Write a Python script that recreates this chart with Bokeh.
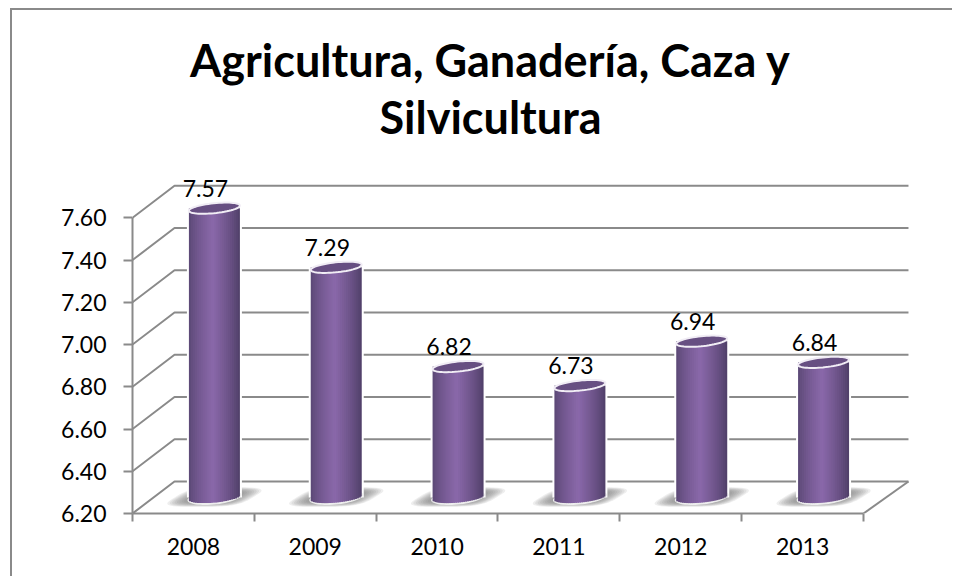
import numpy as np
from bokeh.plotting import figure
from bokeh.models import FixedTicker, Label
from bokeh.embed import file_html
from bokeh.resources import INLINE

title_lines = ["Agricultura, Ganadería, Caza y", "Silvicultura"]
unit_label = "%"
years = ["2008", "2009", "2010", "2011", "2012", "2013"]
values = [7.57, 7.29, 6.82, 6.73, 6.94, 6.84]
y_ticks = [6.20, 6.40, 6.60, 6.80, 7.00, 7.20, 7.40, 7.60]

ORIGIN_X, ORIGIN_Y = 12, 10   # page position of the canvas (margin + css border)
W, H = 954 - ORIGIN_X, 578 - ORIGIN_Y
BORDER_L, BORDER_B = 132 - ORIGIN_X, 578 - 513
PX_PER_CAT = 121.83
PX_PER_UNIT = 211.2
Y0 = y_ticks[0]
ux = 1 / PX_PER_CAT
uy = 1 / PX_PER_UNIT
frame_w, frame_h = W - BORDER_L, H - BORDER_B
GREY = "#8a8a8a"
FONT = "Lato"

p = figure(width=W, height=H, output_backend="svg", toolbar_location=None,
           x_range=(0, frame_w * ux), y_range=(Y0, Y0 + frame_h * uy),
           min_border_left=BORDER_L, min_border_bottom=BORDER_B,
           min_border_top=0, min_border_right=0,
           background_fill_color="white", border_fill_color="white",
           outline_line_color=None)
p.margin = (8, 0, 0, 10)
p.styles = {"border-top": f"2px solid {GREY}", "border-left": f"2px solid {GREY}"}
p.grid.visible = False

n = len(years)
xa = p.xaxis[0]
xa.ticker = FixedTicker(ticks=[i + 0.5 for i in range(n)], minor_ticks=list(range(n + 1)))
xa.major_label_overrides = {i + 0.5: y for i, y in enumerate(years)}
xa.major_tick_line_color = None
xa.major_tick_out = 0
xa.major_tick_in = 0
xa.minor_tick_out = 8
xa.minor_tick_in = 0
xa.minor_tick_line_color = GREY
xa.minor_tick_line_width = 2
xa.axis_line_color = GREY
xa.axis_line_width = 2
xa.bounds = (0, n)
xa.major_label_standoff = 16
xa.major_label_text_font = FONT
xa.major_label_text_font_size = "23px"
xa.major_label_text_color = "black"

ya = p.yaxis[0]
ya.ticker = FixedTicker(ticks=y_ticks, minor_ticks=[])
ya.major_label_overrides = {t: f"{t:.2f}" for t in y_ticks}
ya.major_tick_out = 9
ya.major_tick_in = 0
ya.major_tick_line_color = GREY
ya.major_tick_line_width = 2
ya.axis_line_color = GREY
ya.axis_line_width = 2
ya.bounds = (y_ticks[0], y_ticks[-1])
ya.major_label_standoff = 17
ya.major_label_text_font = FONT
ya.major_label_text_font_size = "23px"
ya.major_label_text_color = "black"

# 3-D walls: depth offset in pixels, converted through the scales
DX, DY = 42 * ux, 32 * uy
gx, gy = [], []
for t in y_ticks:
    gx.append([0, DX, n + 3 * ux + DX])
    gy.append([t, t + DY, t + DY])
gx.append([n, n + DX + 3 * ux])
gy.append([Y0, Y0 + DY])
p.multi_line(gx, gy, line_color=GREY, line_width=2)

BAR_OFF = 0.5 + 21 * ux
BAR_DY = 16 * uy
A, B, TILT = 25.5, 5.0, 0.10

centers = [i + BAR_OFF for i in range(n)]
base_y = Y0 + BAR_DY


def ell(cx, cy, a=A, b=B):
    th = np.linspace(0, 2 * np.pi, 60)
    x_px = a * np.cos(th)
    y_px = b * np.sin(th) + TILT * x_px
    return list(cx + x_px * ux), list(cy + y_px * uy)


# floor shadows: a soft skewed blob, built up from nested translucent layers
th = np.linspace(0, 2 * np.pi, 50)
cu, su = np.cos(th), np.sin(th)
blob_u = np.sign(cu) * np.abs(cu) ** 0.55
blob_v = np.sign(su) * np.abs(su) ** 0.55
for s in np.linspace(1.15, 0.5, 12):
    sx, sy = [], []
    for c in centers:
        v_px = 0.5 + 8.5 * s * blob_v
        u_px = 34 * s * blob_u + 1.65 * (v_px - 0.5)
        sx.append(list(c + u_px * ux))
        sy.append(list(base_y + v_px * uy))
    p.patches(sx, sy, fill_color="#707070", fill_alpha=0.12, line_color=None)

# halo behind each cylinder
p.quad(left=[c - (A + 2) * ux for c in centers], right=[c + (A + 2) * ux for c in centers],
       bottom=[base_y] * n, top=[v + BAR_DY for v in values], fill_color="white", line_color=None)
hx, hy = zip(*[ell(c, base_y, A + 1.5, B + 2.0) for c in centers])
p.patches(list(hx), list(hy), fill_color="#eeeeee", line_color=None)

# shaded cylinder body, drawn as narrow strips with a slight overlap
N = 26
edges = np.linspace(-A, A, N + 1)
dark_l, mid, dark_r = np.array([0x58, 0x46, 0x72]), np.array([0x8A, 0x68, 0xAA]), np.array([0x4E, 0x3E, 0x66])


def shade(t):
    u = t * 0.5 + 0.5
    if u < 0.47:
        k = (u / 0.47) ** 0.7
        c = dark_l + (mid - dark_l) * k
    else:
        k = ((1 - u) / 0.53) ** 0.8
        c = dark_r + (mid - dark_r) * k
    return "#%02x%02x%02x" % tuple(int(round(v)) for v in c)


for i in range(N):
    e0, e1 = edges[i], min(edges[i + 1] + 1.0, A)
    m = (edges[i] + edges[i + 1]) / 2
    low = (B * np.sqrt(max(0, 1 - (m / A) ** 2)) - TILT * m) * uy
    p.quad(left=[c + e0 * ux for c in centers], right=[c + e1 * ux for c in centers],
           bottom=[base_y - low] * n, top=[v + BAR_DY for v in values],
           fill_color=shade(m / A), line_color=None)

# cylinder tops
tx, ty = zip(*[ell(c, v + BAR_DY) for c, v in zip(centers, values)])
p.patches(list(tx), list(ty), fill_color="#674f82", line_color="#f1edf5", line_width=2)

# value labels
p.text(x=centers, y=[v + BAR_DY for v in values], text=[f"{v:.2f}" for v in values],
       x_offset=-9, y_offset=-20, text_align="center", text_baseline="middle",
       text_font_size="23px", text_font={"value": FONT}, text_color="black")


def px_y(y):
    # y measured in page pixels from the top of the window
    return Y0 + (513 - y) * uy


for line, yy in zip(title_lines, [59, 116]):
    p.add_layout(Label(x=(490 - 132) * ux, y=px_y(yy), text=line, text_align="center",
                       text_baseline="alphabetic", text_font=FONT, text_font_style="bold",
                       text_font_size="45px", text_color="black"))
p.add_layout(Label(x=(88 - 132) * ux, y=px_y(151), text=unit_label, text_align="center",
                   text_baseline="middle", text_font=FONT, text_font_size="23px", text_color="black"))

open("out.html", "w").write(file_html(p, INLINE))
